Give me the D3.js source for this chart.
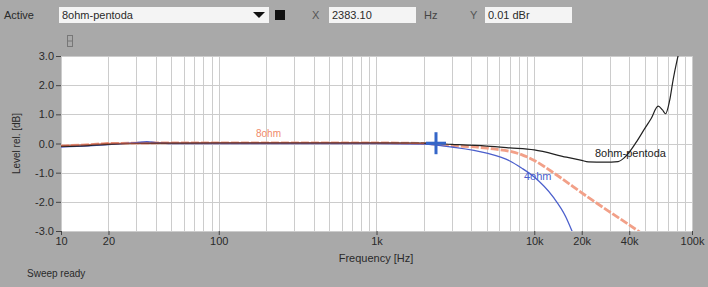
<!DOCTYPE html>
<head>
  <meta charset="utf-8">
  <script src="https://d3js.org/d3.v7.min.js"></script>
  <style>
    body { margin: 0; background: #a9a9a9; }
    svg { display: block; font-family: "Liberation Sans", Arial, sans-serif; }
  </style>
</head>
<body>
<svg width="708" height="287"></svg>
<script>

  // measured curves, frequency in Hz, level in dB
  let pentodaFreq = [10, 15, 20, 30, 50, 100, 300, 1000, 2000, 3000, 5000, 7000, 10000, 16000, 20000, 22000, 28000, 34000, 37000, 40000, 45000, 50000, 55000, 61000, 65000, 68000, 72000, 76000, 80000, 82000];
  let pentodaDb   = [-0.1, -0.07, -0.03, 0.0, 0.01, 0.02, 0.02, 0.02, 0.01, -0.03, -0.09, -0.15, -0.22, -0.47, -0.58, -0.63, -0.64, -0.62, -0.5, -0.3, 0.1, 0.5, 0.85, 1.28, 1.15, 1.02, 1.45, 2.2, 2.8, 3.05];

  let ohm4Freq = [10, 15, 20, 30, 35, 40, 50, 100, 1000, 2000, 3000, 5000, 7000, 8300, 10000, 13200, 15800, 17500];
  let ohm4Db   = [-0.12, -0.08, -0.04, 0.03, 0.06, 0.03, 0.0, 0.0, 0.0, -0.02, -0.12, -0.33, -0.6, -0.84, -1.15, -1.84, -2.5, -3.05];

  let ohm8Freq = [10, 15, 20, 50, 100, 1000, 2000, 3000, 5000, 8300, 10000, 13200, 21900, 30000, 40000, 47000];
  let ohm8Db   = [-0.08, -0.04, 0.0, 0.02, 0.02, 0.02, 0.0, -0.07, -0.16, -0.38, -0.58, -1.0, -1.84, -2.34, -2.79, -3.05];

  let xTicks = [10, 20, 100, 1000, 10000, 20000, 40000, 100000];
  let xTickLabels = ["10", "20", "100", "1k", "10k", "20k", "40k", "100k"];
  let yTicks = [3, 2, 1, 0, -1, -2, -3];

  let cursorFreq = 2383.10, cursorDb = 0.01;

  let svg = d3.select("svg");
  let pl = 61, pr = 692, pt = 56, pb = 231;

  let x = d3.scaleLog().domain([10, 100000]).range([pl, pr]);
  let y = d3.scaleLinear().domain([-3, 3]).range([pb, pt]);

  // ---- toolbar ----
  let bar = svg.append("g").attr("font-size", 11).attr("fill", "#2a2a2a");
  bar.append("text").attr("x", 4).attr("y", 19).text("Active");
  bar.append("rect").attr("x", 59).attr("y", 7).attr("width", 210).attr("height", 16).attr("fill", "#f4f4f4");
  bar.append("text").attr("x", 62).attr("y", 19).text("8ohm-pentoda");
  bar.append("path").attr("d", "M253,12 L265,12 L259,18 Z").attr("fill", "#111");
  bar.append("rect").attr("x", 275).attr("y", 10).attr("width", 10).attr("height", 10).attr("fill", "#111");
  bar.append("text").attr("x", 312).attr("y", 19).attr("fill", "#555").text("X");
  bar.append("rect").attr("x", 329).attr("y", 7).attr("width", 87).attr("height", 16).attr("fill", "#f4f4f4");
  bar.append("text").attr("x", 332).attr("y", 19).text(cursorFreq.toFixed(2));
  bar.append("text").attr("x", 424).attr("y", 19).attr("fill", "#444").text("Hz");
  bar.append("text").attr("x", 470).attr("y", 19).attr("fill", "#555").text("Y");
  bar.append("rect").attr("x", 485).attr("y", 7).attr("width", 87).attr("height", 16).attr("fill", "#f4f4f4");
  bar.append("text").attr("x", 488).attr("y", 19).text(cursorDb.toFixed(2) + " dBr");

  // small icon above the axis
  svg.append("rect").attr("x", 67.5).attr("y", 35.5).attr("width", 5).attr("height", 11)
    .attr("fill", "none").attr("stroke", "#777");
  svg.append("line").attr("x1", 67.5).attr("x2", 72.5).attr("y1", 41).attr("y2", 41).attr("stroke", "#777");

  // ---- plot area ----
  svg.append("rect").attr("x", pl).attr("y", pt).attr("width", pr - pl).attr("height", pb - pt).attr("fill", "#fff");

  let minor = [];
  for (let d = 10; d < 100000; d *= 10) for (let k = 1; k <= 9; k++) minor.push(d * k);
  minor.push(100000);

  svg.append("g").selectAll("line").data(minor).join("line")
    .attr("x1", d => Math.round(x(d)) + 0.5).attr("x2", d => Math.round(x(d)) + 0.5)
    .attr("y1", pt).attr("y2", pb)
    .attr("stroke", "#cccccc").attr("stroke-width", 1);

  svg.append("g").selectAll("line").data(yTicks).join("line")
    .attr("x1", pl).attr("x2", pr)
    .attr("y1", d => Math.round(y(d)) + 0.5).attr("y2", d => Math.round(y(d)) + 0.5)
    .attr("stroke", "#cccccc");

  // axes
  let yAxis = svg.append("g").attr("transform", `translate(${pl},0)`)
    .call(d3.axisLeft(y).tickValues(yTicks).tickSize(5).tickPadding(2)
      .tickFormat(d => d.toFixed(1).replace("\u2212", "-")));
  let xAxis = svg.append("g").attr("transform", `translate(0,${pb})`)
    .call(d3.axisBottom(x).tickValues(xTicks).tickSize(4).tickPadding(2)
      .tickFormat((d, i) => xTickLabels[i]));
  [yAxis, xAxis].forEach(a => {
    a.select(".domain").remove();
    a.selectAll("line").attr("stroke", "#444");
    a.selectAll("text").attr("fill", "#2a2a2a").attr("font-size", 11)
      .attr("font-family", "\"Liberation Sans\", Arial, sans-serif");
  });

  svg.append("text").attr("transform", `translate(20,${(pt + pb) / 2}) rotate(-90)`)
    .attr("text-anchor", "middle").attr("font-size", 10).attr("fill", "#2a2a2a").text("Level rel. [dB]");
  svg.append("text").attr("x", 376).attr("y", 262).attr("text-anchor", "middle")
    .attr("font-size", 11).attr("fill", "#2a2a2a").text("Frequency [Hz]");
  svg.append("text").attr("x", 27).attr("y", 277).attr("font-size", 10).attr("fill", "#2a2a2a").text("Sweep ready");

  // ---- curves ----
  svg.append("clipPath").attr("id", "plot").append("rect")
    .attr("x", pl).attr("y", pt).attr("width", pr - pl).attr("height", pb - pt);

  let line = d3.line().curve(d3.curveMonotoneX).x(d => x(d[0])).y(d => y(d[1]));
  let curves = svg.append("g").attr("clip-path", "url(#plot)");

  curves.append("path").datum(d3.zip(ohm8Freq, ohm8Db)).attr("d", line)
    .attr("fill", "none").attr("stroke", "#f2a088").attr("stroke-width", 2.8).attr("stroke-dasharray", "8,2");
  curves.append("path").datum(d3.zip(ohm4Freq, ohm4Db)).attr("d", line)
    .attr("fill", "none").attr("stroke", "#4b5fcc").attr("stroke-width", 1.3);
  curves.append("path").datum(d3.zip(pentodaFreq, pentodaDb)).attr("d", line)
    .attr("fill", "none").attr("stroke", "#222").attr("stroke-width", 1.2);
  // the 8 ohm trace lies over the others in the flat part
  curves.append("path").datum(d3.zip(ohm8Freq, ohm8Db).filter(d => d[0] <= 2000)).attr("d", line)
    .attr("fill", "none").attr("stroke", "#b0503c").attr("stroke-width", 1.4).attr("stroke-opacity", 0.8);

  // curve labels
  svg.append("text").attr("x", 256).attr("y", 137).attr("font-size", 10).attr("fill", "#f08a6a").text("8ohm");
  svg.append("text").attr("x", 524).attr("y", 180).attr("font-size", 11).attr("fill", "#4b5fcc").text("4ohm");
  svg.append("text").attr("x", 595).attr("y", 157).attr("font-size", 11).attr("fill", "#222").text("8ohm-pentoda");

  // cursor
  let cx = x(cursorFreq), cy = y(cursorDb);
  svg.append("line").attr("x1", cx).attr("x2", cx).attr("y1", cy - 11).attr("y2", cy + 11)
    .attr("stroke", "#3566c8").attr("stroke-width", 3);
  svg.append("line").attr("x1", cx - 10).attr("x2", cx + 10).attr("y1", cy).attr("y2", cy)
    .attr("stroke", "#3566c8").attr("stroke-width", 3);

</script>
</body>
